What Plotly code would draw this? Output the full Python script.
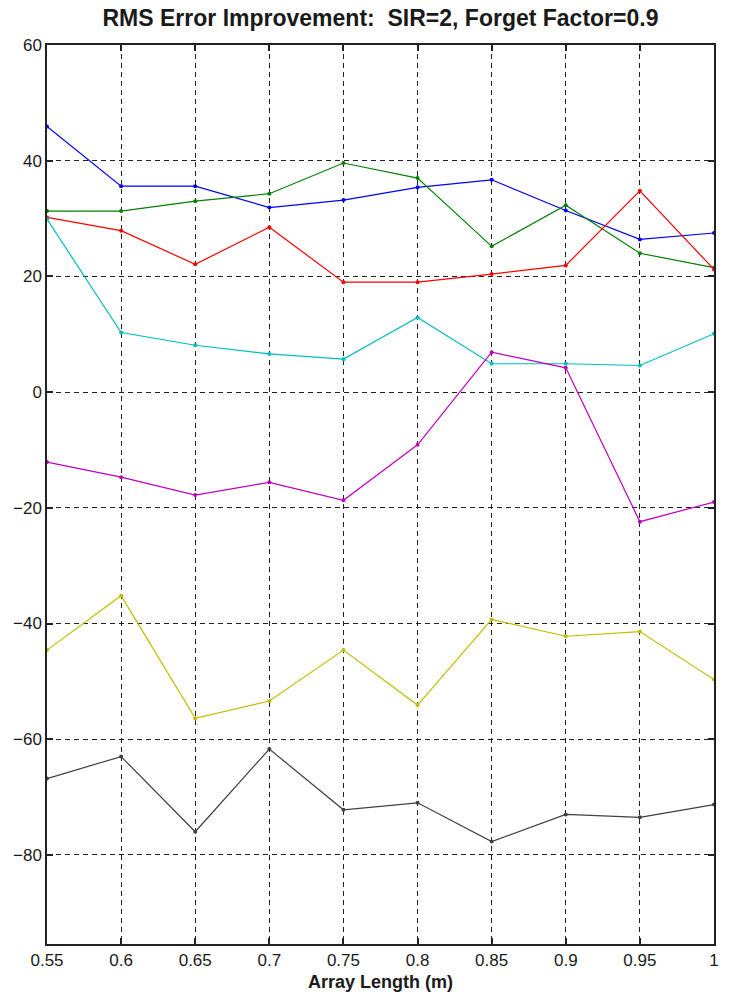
import plotly.graph_objects as go

x_vals = [0.55, 0.6, 0.65, 0.7, 0.75, 0.8, 0.85, 0.9, 0.95, 1.0]
blue = [45.9, 35.6, 35.6, 31.9, 33.2, 35.4, 36.7, 31.4, 26.4, 27.5]
green = [31.3, 31.3, 33.0, 34.3, 39.6, 37.0, 25.2, 32.3, 24.0, 21.5]
red = [30.2, 27.9, 22.1, 28.5, 19.0, 19.0, 20.4, 21.9, 34.8, 21.2]
cyan = [29.9, 10.3, 8.1, 6.6, 5.7, 12.9, 4.9, 4.9, 4.6, 10.1]
magenta = [-12.1, -14.7, -17.8, -15.6, -18.7, -9.1, 6.9, 4.2, -22.4, -19.0]
yellow = [-44.6, -35.2, -56.4, -53.4, -44.6, -54.1, -39.3, -42.2, -41.4, -49.7]
gray = [-66.8, -63.0, -76.0, -61.7, -72.2, -71.0, -77.7, -73.0, -73.5, -71.3]

x_ticks = [0.55, 0.6, 0.65, 0.7, 0.75, 0.8, 0.85, 0.9, 0.95, 1.0]
x_tick_text = ["0.55", "0.6", "0.65", "0.7", "0.75", "0.8", "0.85", "0.9", "0.95", "1"]
y_ticks = [60, 40, 20, 0, -20, -40, -60, -80]

series = [
    (blue, "#0000FF"),
    (green, "#008000"),
    (red, "#FF0000"),
    (cyan, "#00BFBF"),
    (magenta, "#BF00BF"),
    (yellow, "#BFBF00"),
    (gray, "#404040"),
]

fig = go.Figure()
for vals, col in series:
    fig.add_trace(go.Scatter(
        x=x_vals, y=vals, mode="lines+markers",
        line=dict(color=col, width=1.2),
        marker=dict(color=col, size=4),
        showlegend=False,
    ))

font_main = "Liberation Sans, Arial, sans-serif"

fig.update_layout(
    width=731, height=1001,
    margin=dict(l=47, r=14, t=45, b=56),
    paper_bgcolor="white", plot_bgcolor="white",
    title=dict(
        text="<b>RMS Error Improvement:  SIR=2, Forget Factor=0.9</b>",
        x=0.5, xref="paper", xanchor="center",
        y=1 - 18 / 1001, yanchor="middle",
        font=dict(family=font_main, size=23, color="#1a1a1a"),
    ),
    font=dict(family=font_main, size=17, color="#1a1a1a"),
)

fig.update_xaxes(
    range=[0.55, 1.0],
    tickvals=x_ticks, ticktext=x_tick_text,
    showgrid=True, gridcolor="#222222", gridwidth=1.3, griddash="5px,4px",
    showline=True, linecolor="#222222", linewidth=1.5, mirror="ticks",
    ticks="inside", ticklen=6, tickcolor="#222222", tickwidth=1.5,
    zeroline=False,
    title=dict(text="<b>Array Length (m)</b>", font=dict(family=font_main, size=18), standoff=6),
    tickfont=dict(family=font_main, size=17),
)
fig.update_yaxes(
    range=[-95.4, 60],
    tickvals=y_ticks,
    showgrid=True, gridcolor="#222222", gridwidth=1.3, griddash="5px,4px",
    showline=True, linecolor="#222222", linewidth=1.5, mirror="ticks",
    ticks="inside", ticklen=6, tickcolor="#222222", tickwidth=1.5,
    zeroline=False,
    tickfont=dict(family=font_main, size=17),
)

fig.write_html(
    "out.html",
    config={"displayModeBar": False},
    post_script="document.body.style.margin='0';document.body.style.overflow='hidden';",
)
